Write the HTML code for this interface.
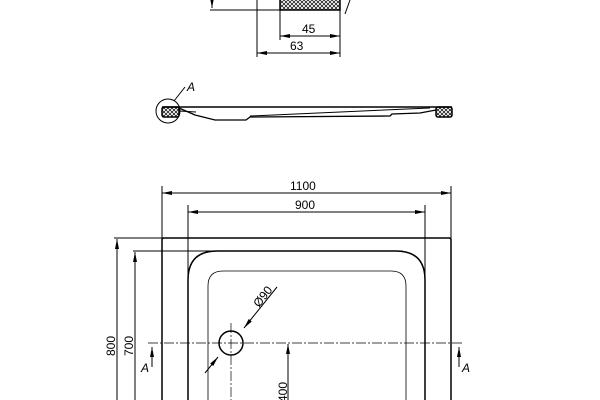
<!DOCTYPE html>
<html><head><meta charset="utf-8"><style>body{margin:0;background:#fff}svg{display:block}text{font-family:"Liberation Sans",sans-serif;font-size:12px;fill:#000}</style></head><body>
<svg width="600" height="400" viewBox="0 0 600 400" xmlns="http://www.w3.org/2000/svg">
<defs>
<pattern id="h" width="4" height="4" patternUnits="userSpaceOnUse"><path d="M0 0L4 4M4 0L0 4" stroke="#000" stroke-width="0.7"/></pattern>
<marker id="a" viewBox="0 0 10 4" refX="10" refY="2" markerWidth="11" markerHeight="4" orient="auto" markerUnits="userSpaceOnUse"><path d="M0 0L10 2L0 4z" fill="#000"/></marker>
<marker id="b" viewBox="0 0 10 4" refX="0" refY="2" markerWidth="11" markerHeight="4" orient="auto" markerUnits="userSpaceOnUse"><path d="M10 0L0 2L10 4z" fill="#000"/></marker>
</defs>
<g stroke="#000" fill="none" stroke-width="1">
<line x1="212" y1="0" x2="212" y2="8" marker-end="url(#a)"/>
<line x1="210" y1="10" x2="280" y2="10"/>
<rect x="280" y="-2" width="60" height="12" fill="url(#h)" stroke-width="1.5"/>
<line x1="350" y1="0" x2="345" y2="14"/>
<line x1="257" y1="0" x2="257" y2="57"/>
<line x1="280" y1="10" x2="280" y2="40"/>
<line x1="340" y1="10" x2="340" y2="57"/>
<line x1="280" y1="36" x2="340" y2="36" marker-start="url(#b)" marker-end="url(#a)"/>
<line x1="257" y1="53" x2="340" y2="53" marker-start="url(#b)" marker-end="url(#a)"/>
<circle cx="168" cy="111" r="12"/>
<line x1="174" y1="101" x2="185" y2="87"/>
<line x1="162" y1="107" x2="452" y2="107" stroke-width="1.5"/>
<rect x="162" y="107" width="17" height="10" fill="url(#h)" stroke-width="1.5" rx="2"/>
<rect x="436" y="107" width="16" height="10" fill="url(#h)" stroke-width="1.5" rx="2"/>
<path d="M179 108L195 115L215 120L246 120L250 117L390 116L392 114L420 113L436 110" stroke-width="1.3"/>
<path d="M179 111L196 112M250 116L430 108"/>
<line x1="162" y1="186" x2="162" y2="400"/>
<line x1="451" y1="186" x2="451" y2="400"/>
<line x1="188" y1="205" x2="188" y2="400"/>
<line x1="425" y1="205" x2="425" y2="400"/>
<line x1="162" y1="193" x2="451" y2="193" marker-start="url(#b)" marker-end="url(#a)"/>
<line x1="188" y1="212" x2="425" y2="212" marker-start="url(#b)" marker-end="url(#a)"/>
<path d="M162 400V240Q162 238 164 238H449Q451 238 451 240V400" stroke-width="1.5"/>
<path d="M188 400V280Q188 251 217 251H396Q425 251 425 280V400" stroke-width="1.5"/>
<path d="M208 400V286Q208 271 223 271H391Q406 271 406 286V400" stroke-width="0.8"/>
<line x1="114" y1="238" x2="162" y2="238"/>
<line x1="133" y1="251" x2="222" y2="251"/>
<line x1="117" y1="400" x2="117" y2="239" marker-end="url(#a)"/>
<line x1="135" y1="400" x2="135" y2="252" marker-end="url(#a)"/>
<line x1="148" y1="343" x2="464" y2="343" stroke-dasharray="10 2 2 2" stroke-width="0.7"/>
<line x1="231" y1="323" x2="231" y2="400" stroke-dasharray="10 2 2 2" stroke-width="0.7"/>
<circle cx="231" cy="343" r="12" stroke-width="1.5"/>
<line x1="277" y1="287" x2="244" y2="328" marker-end="url(#a)"/>
<line x1="205" y1="373" x2="218" y2="357" marker-end="url(#a)"/>
<line x1="288" y1="400" x2="288" y2="344" marker-end="url(#a)"/>
<line x1="152" y1="367" x2="152" y2="347" marker-end="url(#a)"/>
<line x1="459" y1="367" x2="459" y2="347" marker-end="url(#a)"/>
</g>
<text x="302" y="33">45</text>
<text x="290" y="50">63</text>
<text x="187" y="91" font-style="italic">A</text>
<text x="290" y="190">1100</text>
<text x="295" y="209">900</text>
<text transform="translate(115,356) rotate(-90)">800</text>
<text transform="translate(133,356) rotate(-90)">700</text>
<text transform="translate(287,402) rotate(-90)">400</text>
<text transform="translate(259,308) rotate(-52)">Ø90</text>
<text x="141" y="372" font-style="italic">A</text>
<text x="462" y="372" font-style="italic">A</text>
</svg>
</body></html>
